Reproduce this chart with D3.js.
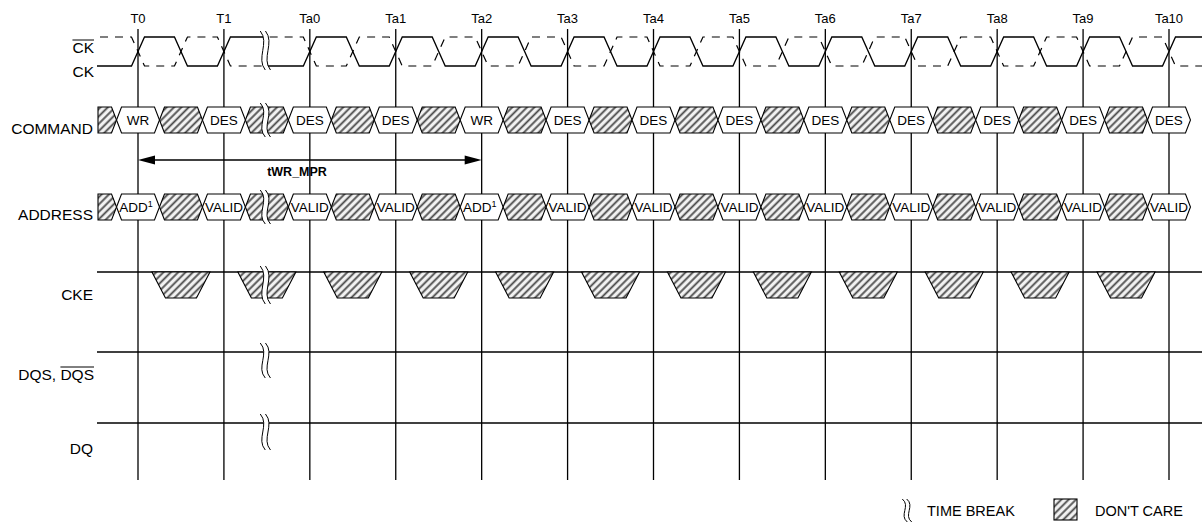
<!DOCTYPE html>
<html>
<head>
<meta charset="utf-8">
<script src="https://cdn.jsdelivr.net/npm/d3@7"></script>
<style>
  html, body { margin: 0; padding: 0; background: #fff; }
  svg { display: block; font-family: "Liberation Sans", Arial, sans-serif; }
</style>
</head>
<body>
<svg id="chart" width="1202" height="522"></svg>
<script>
// ---- data ----
const edgeLabels = ["T0", "T1", "Ta0", "Ta1", "Ta2", "Ta3", "Ta4", "Ta5", "Ta6", "Ta7", "Ta8", "Ta9", "Ta10"];
const commandValues = ["WR", "DES", "DES", "DES", "WR", "DES", "DES", "DES", "DES", "DES", "DES", "DES", "DES"];
const addressValues = ["ADD", "VALID", "VALID", "VALID", "ADD", "VALID", "VALID", "VALID", "VALID", "VALID", "VALID", "VALID", "VALID"];
const addressNotes = ["1", "", "", "", "1", "", "", "", "", "", "", "", ""];
const ckeDontCare = [true, true, true, true, true, true, true, true, true, true, true, true]; // between edges
const breakAfter = 1; // time break between T1 and Ta0
const timingLabel = "tWR_MPR";
const timingFrom = 0, timingTo = 4; // T0 -> Ta2
const legendItems = ["TIME BREAK", "DON'T CARE"];

// ---- layout ----
const svg = d3.select("#chart");
const x = d3.scaleLinear().domain([0, edgeLabels.length - 1]).range([138, 1169]);
const hp = (x(1) - x(0)) / 2;
const left = 97, right = 1202;
const ckHi = 37, ckLo = 66;
const cmdY = 120, addrY = 207, busH = 13, slant = 5;
const ckeTop = 272, ckeBot = 298;
const dqsY = 352, dqY = 423;
const breakX = x(breakAfter + 0.5) - 1.5;

// hatch pattern
const defs = svg.append("defs");
const pw = 5.2;
const pat = defs.append("pattern").attr("id", "hatch")
  .attr("patternUnits", "userSpaceOnUse").attr("width", pw).attr("height", pw)
  .attr("patternTransform", "rotate(45)");
pat.append("rect").attr("width", pw).attr("height", pw).attr("fill", "#f2f2f2");
pat.append("line").attr("x1", 1.3).attr("y1", 0).attr("x2", 1.3).attr("y2", pw)
  .attr("stroke", "#4a4a4a").attr("stroke-width", 1.8);

// signal labels
const lab = svg.append("g").attr("font-size", 15.5).attr("text-anchor", "end").attr("fill", "#000");
function overLabel(txt, y) {
  const t = lab.append("text").attr("x", 94).attr("y", y).text(txt);
  const w = t.node().getComputedTextLength();
  lab.append("line").attr("x1", 94 - w).attr("x2", 94).attr("y1", y - 13).attr("y2", y - 13)
    .attr("stroke", "#000").attr("stroke-width", 1);
  return w;
}
overLabel("CK", 53);
lab.append("text").attr("x", 94).attr("y", 77).text("CK");
lab.append("text").attr("x", 93).attr("y", 134).text("COMMAND");
lab.append("text").attr("x", 93).attr("y", 220).text("ADDRESS");
lab.append("text").attr("x", 93).attr("y", 300).text("CKE");
const wq = overLabel("DQS", 380);
lab.append("text").attr("x", 94 - wq).attr("y", 380).attr("xml:space", "preserve").text("DQS, ");
lab.append("text").attr("x", 93).attr("y", 454).text("DQ");

// edge labels + vertical lines
svg.append("g").selectAll("line").data(edgeLabels).join("line")
  .attr("x1", (d, i) => x(i)).attr("x2", (d, i) => x(i))
  .attr("y1", 29).attr("y2", 480).attr("stroke", "#000").attr("stroke-width", 1.3);
svg.append("g").attr("font-size", 13).attr("text-anchor", "middle")
  .selectAll("text").data(edgeLabels).join("text")
  .attr("x", (d, i) => x(i)).attr("y", 23).text(d => d);

// horizontal lines for CKE, DQS, DQ
[ckeTop, dqsY, dqY].forEach(y => {
  svg.append("line").attr("x1", left).attr("x2", right).attr("y1", y).attr("y2", y)
    .attr("stroke", "#000").attr("stroke-width", 1.3);
});

// clock waveform
function clockPoints(invert) {
  const hi = invert ? ckLo : ckHi, lo = invert ? ckHi : ckLo;
  const pts = [[left + (invert ? 3 : 0), lo]];
  const tw = 6.5;
  edgeLabels.forEach((d, i) => {
    const e = x(i);
    pts.push([e - tw, lo], [e + tw, hi]);
    if (i < edgeLabels.length - 1) {
      const m = e + hp;
      if (i === breakAfter) {
        pts.push([breakX, hi], [breakX, lo]);
      } else {
        pts.push([m - tw, hi], [m + tw, lo]);
      }
    }
  });
  pts.push([right, hi]);
  return pts;
}
const line = d3.line();
svg.append("path").attr("d", line(clockPoints(false))).attr("fill", "none")
  .attr("stroke", "#000").attr("stroke-width", 1.3);
svg.append("path").attr("d", line(clockPoints(true))).attr("fill", "none")
  .attr("stroke", "#000").attr("stroke-width", 1.2).attr("stroke-dasharray", "8,7");

// bus cells
function hexPath(x0, x1, yc, flatLeft) {
  const t = yc - busH, b = yc + busH;
  if (flatLeft) return `M${x0},${t}L${x1 - slant},${t}L${x1},${yc}L${x1 - slant},${b}L${x0},${b}Z`;
  return `M${x0},${yc}L${x0 + slant},${t}L${x1 - slant},${t}L${x1},${yc}L${x1 - slant},${b}L${x0 + slant},${b}Z`;
}
function drawBus(values, notes, yc) {
  const g = svg.append("g");
  g.append("path").attr("d", hexPath(left + 1, x(0) - hp / 2, yc, true))
    .attr("fill", "url(#hatch)").attr("stroke", "#000").attr("stroke-width", 1.1);
  values.forEach((v, i) => {
    const c = x(i);
    g.append("path").attr("d", hexPath(c - hp / 2, c + hp / 2, yc))
      .attr("fill", "#fff").attr("stroke", "#000").attr("stroke-width", 1.1);
    if (i < values.length - 1) {
      g.append("path").attr("d", hexPath(c + hp / 2, c + 1.5 * hp, yc))
        .attr("fill", "url(#hatch)").attr("stroke", "#000").attr("stroke-width", 1.1);
    }
    const t = g.append("text").attr("x", c).attr("y", yc + 5)
      .attr("font-size", 13.5).attr("text-anchor", "middle").text(v);
    if (notes && notes[i]) {
      t.append("tspan").attr("font-size", 9).attr("dy", -5).text(notes[i]);
      t.attr("x", c - 2);
    }
  });
}
drawBus(commandValues, null, cmdY);
drawBus(addressValues, addressNotes, addrY);

// CKE don't care trapezoids
svg.append("g").selectAll("path").data(ckeDontCare).join("path")
  .filter(d => d)
  .attr("d", (d, i) => {
    const m = x(i) + hp;
    return `M${m - 29},${ckeTop}L${m + 29},${ckeTop}L${m + 15.5},${ckeBot}L${m - 15.5},${ckeBot}Z`;
  })
  .attr("fill", "url(#hatch)").attr("stroke", "#000").attr("stroke-width", 1.1);

// timing arrow
const ay = 160;
svg.append("line").attr("x1", x(timingFrom) + 4).attr("x2", x(timingTo) - 4)
  .attr("y1", ay).attr("y2", ay).attr("stroke", "#000").attr("stroke-width", 1.3);
svg.append("path").attr("d", `M${x(timingFrom)},${ay}L${x(timingFrom) + 17},${ay - 4.5}L${x(timingFrom) + 17},${ay + 4.5}Z`);
svg.append("path").attr("d", `M${x(timingTo)},${ay}L${x(timingTo) - 17},${ay - 4.5}L${x(timingTo) - 17},${ay + 4.5}Z`);
svg.append("text").attr("x", 297).attr("y", 176).attr("text-anchor", "middle")
  .attr("font-size", 12.5).attr("font-weight", "bold").text(timingLabel);

// time breaks
function wave(cx, y0, y1, amp) {
  const h = y1 - y0;
  return [[cx - 2.5, y0], [cx + amp, y0 + h * 0.3], [cx - amp, y0 + h * 0.7], [cx + 2.5, y1]];
}
function curveD(p) { return `M${p[0][0]},${p[0][1]}C${p[1][0]},${p[1][1]} ${p[2][0]},${p[2][1]} ${p[3][0]},${p[3][1]}`; }
function breakSym(cx, y0, y1, gap, amp, mask) {
  const a = wave(cx - gap, y0, y1, amp), b = wave(cx + gap, y0, y1, amp);
  if (mask) {
    const d = curveD(a) + `L${b[3][0]},${b[3][1]}C${b[2][0]},${b[2][1]} ${b[1][0]},${b[1][1]} ${b[0][0]},${b[0][1]}Z`;
    svg.append("path").attr("d", d).attr("fill", "#fff");
  }
  [a, b].forEach(p => svg.append("path").attr("d", curveD(p)).attr("fill", "none")
    .attr("stroke", "#000").attr("stroke-width", 1));
}
[[31, 70], [103, 137], [190, 224], [266, 304], [343, 378], [414, 450]]
  .forEach(r => breakSym(breakX, r[0], r[1], 2.6, 7, true));

// legend
breakSym(907, 499, 522, 2.2, 6, false);
svg.append("text").attr("x", 927).attr("y", 516).attr("font-size", 14.5).text(legendItems[0]);
svg.append("rect").attr("x", 1054).attr("y", 499).attr("width", 23).attr("height", 21)
  .attr("fill", "url(#hatch)").attr("stroke", "#000").attr("stroke-width", 1.1);
svg.append("text").attr("x", 1095).attr("y", 516).attr("font-size", 14.5).text(legendItems[1]);
</script>
</body>
</html>
